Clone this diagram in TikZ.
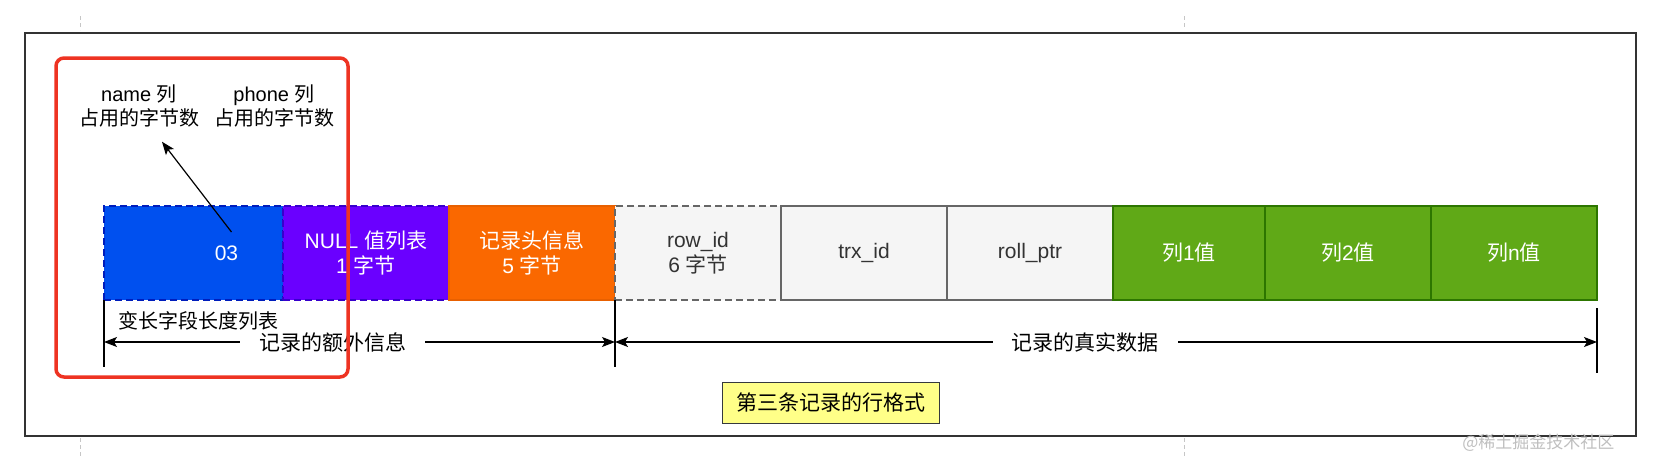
\documentclass[tikz,border=0pt]{standalone}
\usepackage{fontspec}
\setmainfont{Liberation Sans}
\newfontfamily\zhfont{Noto Sans CJK SC}
\newcommand{\zh}[1]{{\zhfont #1}}
\usepackage{xcolor}
\usepackage{tikz}
\usetikzlibrary{positioning,calc,arrows.meta}

\definecolor{blueF}{HTML}{0050EF}
\definecolor{blueD}{HTML}{001DBC}
\definecolor{purpleF}{HTML}{6A00FF}
\definecolor{purpleD}{HTML}{3700CC}
\definecolor{orangeF}{HTML}{FA6800}
\definecolor{orangeD}{HTML}{E86000}
\definecolor{greyF}{HTML}{F5F5F5}
\definecolor{greyD}{HTML}{666666}
\definecolor{greyT}{HTML}{333333}
\definecolor{greenF}{HTML}{60A917}
\definecolor{greenD}{HTML}{2D7600}
\definecolor{noteF}{HTML}{FFFF88}
\definecolor{noteD}{HTML}{36393D}
\definecolor{markR}{HTML}{EE3322}

\begin{document}
\begin{tikzpicture}[
    x=1pt, y=-1pt,
    field/.style={rectangle, draw, minimum width=166pt, minimum height=94pt, align=center, inner sep=0pt, outer sep=0pt, line width=1.2pt, font=\fontsize{21}{25}\selectfont},
    dashfield/.style={field, dash pattern=on 7pt off 4pt, line width=2.2pt},
    greyfield/.style={fill=greyF, draw=greyD, text=greyT},
    greenfield/.style={field, fill=greenF, draw=greenD, text=white},
    note/.style={align=center, font=\fontsize{20}{24}\selectfont},
    dimlabel/.style={fill=white, inner xsep=19pt, inner ysep=2pt, font=\zhfont\fontsize{21}{25}\selectfont},
    arrow/.style={line width=1.2pt, {Stealth[length=13pt, width=10pt, inset=3pt]}-{Stealth[length=13pt, width=10pt, inset=3pt]}},
    pointer/.style={line width=1.2pt, -{Stealth[length=13pt, width=10pt, inset=3pt]}},
    tick/.style={line width=1.2pt},
    pagemark/.style={gray!45, line width=1pt, dash pattern=on 4pt off 3pt}
]
\useasboundingbox (0,0) rectangle (1659,458);

% Page marks and frame
\draw [pagemark] (80,16) -- (80,30);
\draw [pagemark] (80,438) -- (80,458);
\draw [pagemark] (1184,16) -- (1184,29);
\draw [pagemark] (1184,438) -- (1184,458);
\draw [line width=1.5pt, color=greyT] (25,33) rectangle (1636,436);

% Fields of the row
\node (varlen) [dashfield, fill=blueF, draw=blueD, minimum width=179pt,
    label={[name=len03, text=white, font=\fontsize{21}{25}\selectfont, xshift=33pt]center:03}] at (193.5,253) {};
\node (nullbits) [dashfield, fill=purpleF, draw=purpleD, text=white, right=0pt of varlen] {NULL \zh{值列表}\\1 \zh{字节}};
\node (header) [field, fill=orangeF, draw=orangeD, text=white, right=0pt of nullbits] {\zh{记录头信息}\\5 \zh{字节}};
\node (rowid) [dashfield, greyfield, right=0pt of header] {row\_id\\6 \zh{字节}};
\node (trxid) [field, greyfield, right=0pt of rowid] {trx\_id};
\node (rollptr) [field, greyfield, right=0pt of trxid] {roll\_ptr};
\node (col1) [greenfield, minimum width=152pt, right=0pt of rollptr] {\zh{列}1\zh{值}};
\node (col2) [greenfield, right=0pt of col1] {\zh{列}2\zh{值}};
\node (coln) [greenfield, right=0pt of col2] {\zh{列}n\zh{值}};

% Labels above and below
\node (namelen) [note] at (139,106) {name \zh{列}\\\zh{占用的字节数}};
\node (phonelen) [note] at (274,106) {phone \zh{列}\\\zh{占用的字节数}};
\node (varlenname) [note, anchor=west] at (115,321) {\zh{变长字段长度列表}};
\draw [pointer] ([xshift=5pt, yshift=10pt]len03.north) -- ([xshift=23pt, yshift=-11pt]namelen.south);

% Dimension lines
\draw [tick] (varlen.south west) -- ++(0,67);
\draw [tick] (header.south east) -- ++(0,67);
\draw [tick] ([yshift=-8pt]coln.south east) -- ++(0,65);
\coordinate (extraL) at ($(varlen.south west)+(0,42)$);
\coordinate (extraR) at ($(header.south east)+(0,42)$);
\coordinate (realR) at ($(coln.south east)+(0,42)$);
\draw [arrow] (extraL) -- node[pos=0.448, dimlabel] {记录的额外信息} (extraR);
\draw [arrow] (extraR) -- node[pos=0.479, dimlabel] {记录的真实数据} (realR);

% Caption
\node (caption) [draw=noteD, fill=noteF, line width=1pt, minimum width=217pt, minimum height=41pt, font=\zhfont\fontsize{21}{25}\selectfont] at (830.5,402.5) {第三条记录的行格式};
\node (watermark) [anchor=east, text=gray!50, font=\zhfont\fontsize{17}{17}\selectfont] at (1618,443) {@稀土掘金技术社区};

% Highlight
\draw [markR, line width=3.5pt, rounded corners=8pt] (56,58) rectangle (348,377);

\end{tikzpicture}
\end{document}
